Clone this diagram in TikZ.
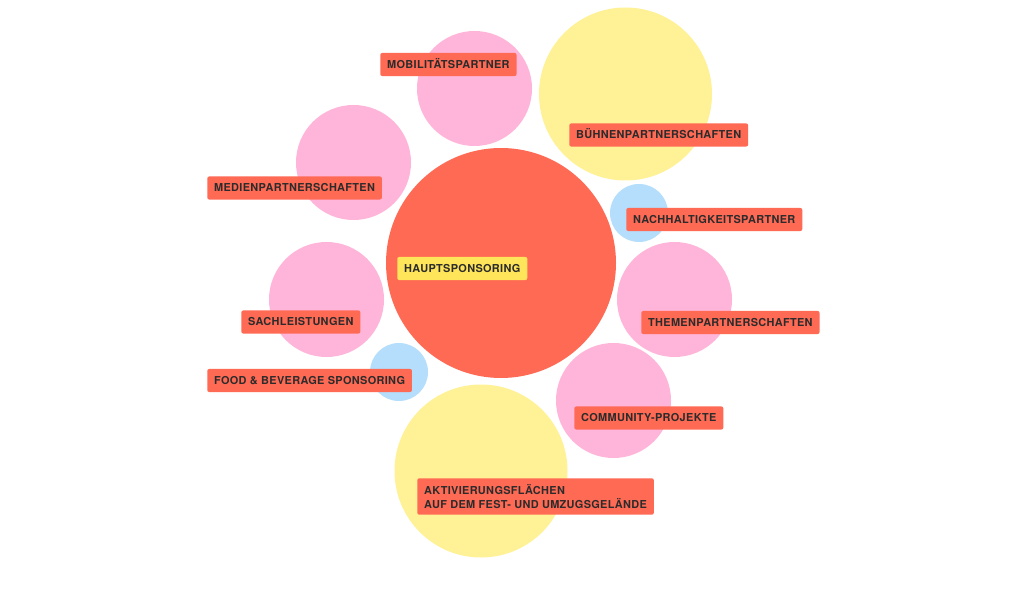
\documentclass[tikz,border=0pt]{standalone}
\usepackage{fontspec}
\newfontfamily\labfont[LetterSpace=3]{TeX Gyre Heros}
\definecolor{cred}{HTML}{FF6A55}
\definecolor{cpink}{HTML}{FFB5D9}
\definecolor{cyel}{HTML}{FFF195}
\definecolor{cblue}{HTML}{B4DEFB}
\definecolor{boxyel}{HTML}{FFE55A}
\definecolor{txt}{HTML}{2B2B2B}
\tikzset{
  bub/.style={circle, inner sep=0pt, draw=none, minimum size=#1},
  lab/.style={anchor=west, fill=cred, rounded corners=1.5pt, text=txt,
    font=\labfont\bfseries\fontsize{8.2pt}{10.5pt}\selectfont,
    inner xsep=5.2pt, inner ysep=5.7pt},
  one/.style={lab, text height=5.9pt, text depth=0pt},
}
\begin{document}
\begin{tikzpicture}[x=0.75pt,y=-0.75pt]
\useasboundingbox (0,0) rectangle (1024,609);
\fill[white] (0,0) rectangle (1024,609);
% circles
\node[bub=230*0.75pt, fill=cred] (haupt) at (501,263) {};
\node[bub=115*0.75pt, fill=cpink] (mob) at (474.5,88.5) {};
\node[bub=173*0.75pt, fill=cyel] (buehne) at (625.5,94) {};
\node[bub=115*0.75pt, fill=cpink] (medien) at (353.5,162.5) {};
\node[bub=58*0.75pt, fill=cblue] (nach) at (639,213) {};
\node[bub=115*0.75pt, fill=cpink] (sach) at (326.5,299.5) {};
\node[bub=115*0.75pt, fill=cpink] (themen) at (674.5,299.5) {};
\node[bub=58*0.75pt, fill=cblue] (food) at (399,372) {};
\node[bub=115*0.75pt, fill=cpink] (comm) at (613.5,400.5) {};
\node[bub=173*0.75pt, fill=cyel] (aktiv) at (481,471) {};
% labels
\node[one] (lmob) at (380,64.5) {MOBILITÄTSPARTNER};
\node[one] (lbuehne) at (569,135) {BÜHNENPARTNERSCHAFTEN};
\node[one] (lmedien) at (207,188) {MEDIENPARTNERSCHAFTEN};
\node[one] (lnach) at (626,219.5) {NACHHALTIGKEITSPARTNER};
\node[one, fill=boxyel] (lhaupt) at (397,268.5) {HAUPTSPONSORING};
\node[one] (lsach) at (241,322) {SACHLEISTUNGEN};
\node[one] (lthemen) at (641,322.5) {THEMENPARTNERSCHAFTEN};
\node[one] (lfood) at (207,380.5) {FOOD \& BEVERAGE SPONSORING};
\node[one] (lcomm) at (574,418) {COMMUNITY-PROJEKTE};
\node[lab, align=left, inner ysep=4.6pt] (laktiv) at (417,496.5) {AKTIVIERUNGSFLÄCHEN\\AUF DEM FEST- UND UMZUGSGELÄNDE};
\end{tikzpicture}
\end{document}
